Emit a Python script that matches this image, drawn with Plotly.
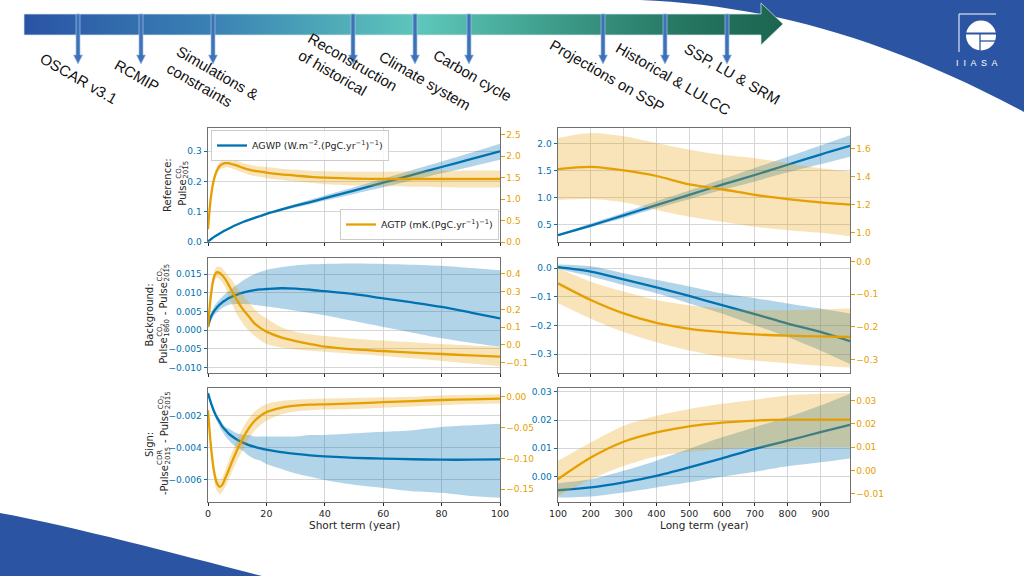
import plotly.graph_objects as go

W, H = 1024, 576

# ---------------- data ----------------
T_SHORT = [0, 1, 2, 3, 4, 5, 6, 7, 8, 10, 12, 14, 16, 18, 20, 25, 30, 35, 40, 50, 60, 70, 80, 90, 100]
T_LONG = [100, 200, 300, 400, 500, 600, 700, 800, 900, 990]

# Reference, short term
REF_AGWP = [0.002, 0.009, 0.016, 0.022, 0.028, 0.034, 0.039, 0.044, 0.049, 0.058, 0.066, 0.073, 0.080, 0.086, 0.093, 0.107, 0.120, 0.132, 0.145, 0.170, 0.196, 0.222, 0.248, 0.274, 0.300]
REF_AGWP_LO = [0.002, 0.009, 0.016, 0.022, 0.027, 0.033, 0.038, 0.043, 0.047, 0.056, 0.064, 0.070, 0.077, 0.083, 0.089, 0.102, 0.114, 0.125, 0.137, 0.159, 0.181, 0.204, 0.227, 0.249, 0.272]
REF_AGWP_HI = [0.002, 0.009, 0.016, 0.022, 0.029, 0.035, 0.040, 0.045, 0.050, 0.060, 0.068, 0.076, 0.083, 0.090, 0.097, 0.112, 0.126, 0.140, 0.154, 0.181, 0.209, 0.238, 0.266, 0.295, 0.325]
REF_AGTP = [0.30, 1.05, 1.45, 1.66, 1.77, 1.82, 1.84, 1.84, 1.82, 1.78, 1.73, 1.69, 1.66, 1.64, 1.62, 1.58, 1.55, 1.52, 1.50, 1.48, 1.47, 1.47, 1.47, 1.47, 1.47]
REF_AGTP_LO = [0.25, 0.98, 1.37, 1.57, 1.68, 1.72, 1.74, 1.74, 1.72, 1.67, 1.62, 1.57, 1.54, 1.52, 1.49, 1.45, 1.41, 1.38, 1.35, 1.32, 1.30, 1.29, 1.28, 1.27, 1.27]
REF_AGTP_HI = [0.35, 1.12, 1.53, 1.75, 1.86, 1.92, 1.94, 1.94, 1.92, 1.89, 1.84, 1.81, 1.78, 1.76, 1.75, 1.71, 1.69, 1.66, 1.65, 1.64, 1.64, 1.65, 1.66, 1.67, 1.67]

# Background, short term
BG_AGWP = [0.0010, 0.0035, 0.0050, 0.0060, 0.0068, 0.0075, 0.0080, 0.0085, 0.0089, 0.0095, 0.0100, 0.0104, 0.0107, 0.0109, 0.0110, 0.0112, 0.0111, 0.0108, 0.0104, 0.0096, 0.0085, 0.0074, 0.0062, 0.0047, 0.0031]
BG_AGWP_LO = [0.0008, 0.0025, 0.0038, 0.0047, 0.0054, 0.0060, 0.0064, 0.0067, 0.0069, 0.0070, 0.0070, 0.0069, 0.0067, 0.0065, 0.0063, 0.0058, 0.0052, 0.0046, 0.0040, 0.0024, 0.0008, -0.0007, -0.0022, -0.0034, -0.0045]
BG_AGWP_HI = [0.0012, 0.0045, 0.0062, 0.0073, 0.0082, 0.0090, 0.0097, 0.0104, 0.0110, 0.0122, 0.0133, 0.0142, 0.0150, 0.0156, 0.0161, 0.0168, 0.0173, 0.0176, 0.0177, 0.0178, 0.0177, 0.0175, 0.0172, 0.0166, 0.0160]
BG_AGTP = [0.10, 0.28, 0.38, 0.41, 0.405, 0.39, 0.37, 0.34, 0.31, 0.25, 0.20, 0.16, 0.12, 0.095, 0.075, 0.043, 0.022, 0.005, -0.010, -0.025, -0.034, -0.043, -0.051, -0.059, -0.066]
BG_AGTP_LO = [0.08, 0.25, 0.35, 0.38, 0.37, 0.35, 0.32, 0.28, 0.24, 0.17, 0.12, 0.08, 0.05, 0.025, 0.005, -0.015, -0.025, -0.032, -0.038, -0.050, -0.062, -0.075, -0.090, -0.105, -0.120]
BG_AGTP_HI = [0.12, 0.31, 0.41, 0.44, 0.44, 0.43, 0.41, 0.39, 0.37, 0.32, 0.28, 0.24, 0.20, 0.17, 0.15, 0.10, 0.075, 0.06, 0.05, 0.035, 0.025, 0.015, 0.005, -0.003, -0.010]

# Sign, short term
SG_AGWP = [-0.0006, -0.0012, -0.0017, -0.0021, -0.0024, -0.0027, -0.0029, -0.0031, -0.00325, -0.0035, -0.00368, -0.00383, -0.00394, -0.00404, -0.00412, -0.00427, -0.00438, -0.00447, -0.00453, -0.00462, -0.00467, -0.00471, -0.00474, -0.00474, -0.00472]
SG_AGWP_LO = [-0.0007, -0.0013, -0.0019, -0.0023, -0.0027, -0.0030, -0.0033, -0.0035, -0.0037, -0.0040, -0.0042, -0.0045, -0.0047, -0.0048, -0.0050, -0.0053, -0.0056, -0.0058, -0.0060, -0.0063, -0.0065, -0.0067, -0.0068, -0.0070, -0.0071]
SG_AGWP_HI = [-0.0005, -0.0011, -0.0015, -0.0019, -0.0022, -0.0025, -0.0027, -0.0028, -0.0029, -0.0031, -0.0032, -0.0032, -0.0033, -0.0033, -0.0033, -0.0033, -0.0033, -0.0032, -0.0032, -0.0031, -0.0030, -0.0029, -0.0027, -0.0026, -0.0025]
SG_AGTP = [-0.022, -0.080, -0.119, -0.140, -0.146, -0.142, -0.131, -0.120, -0.108, -0.086, -0.067, -0.051, -0.039, -0.031, -0.025, -0.018, -0.0146, -0.013, -0.0124, -0.011, -0.009, -0.0072, -0.0054, -0.0043, -0.0032]
SG_AGTP_LO = [-0.030, -0.090, -0.130, -0.152, -0.158, -0.154, -0.145, -0.134, -0.124, -0.103, -0.085, -0.068, -0.055, -0.046, -0.039, -0.029, -0.024, -0.022, -0.021, -0.020, -0.018, -0.016, -0.014, -0.012, -0.011]
SG_AGTP_HI = [-0.015, -0.070, -0.110, -0.130, -0.136, -0.130, -0.118, -0.105, -0.093, -0.070, -0.050, -0.035, -0.024, -0.017, -0.012, -0.007, -0.005, -0.004, -0.003, -0.002, -0.001, 0.000, 0.002, 0.003, 0.004]

# Reference, long term
LREF_AGWP = [0.30, 0.48, 0.67, 0.86, 1.05, 1.24, 1.42, 1.61, 1.80, 1.96]
LREF_AGWP_LO = [0.28, 0.45, 0.62, 0.80, 0.97, 1.14, 1.30, 1.47, 1.62, 1.76]
LREF_AGWP_HI = [0.32, 0.52, 0.72, 0.93, 1.13, 1.34, 1.55, 1.76, 1.97, 2.16]
LREF_AGTP = [1.454, 1.470, 1.445, 1.405, 1.345, 1.310, 1.270, 1.240, 1.216, 1.200]
LREF_AGTP_LO = [1.233, 1.240, 1.216, 1.161, 1.113, 1.077, 1.041, 1.017, 0.998, 0.974]
LREF_AGTP_HI = [1.677, 1.713, 1.689, 1.641, 1.593, 1.557, 1.533, 1.497, 1.461, 1.437]

# Background, long term
LBG_AGWP = [0.0035, -0.012, -0.039, -0.067, -0.097, -0.129, -0.160, -0.193, -0.222, -0.254]
LBG_AGWP_LO = [-0.0035, -0.029, -0.059, -0.088, -0.123, -0.158, -0.199, -0.240, -0.287, -0.334]
LBG_AGWP_HI = [0.012, 0.006, -0.018, -0.041, -0.064, -0.088, -0.105, -0.123, -0.141, -0.158]
LBG_AGTP = [-0.067, -0.118, -0.159, -0.188, -0.206, -0.216, -0.223, -0.227, -0.229, -0.231]
LBG_AGTP_LO = [-0.128, -0.175, -0.216, -0.247, -0.272, -0.291, -0.303, -0.311, -0.319, -0.324]
LBG_AGTP_HI = [-0.021, -0.062, -0.092, -0.118, -0.134, -0.144, -0.149, -0.149, -0.147, -0.144]

# Sign, long term
LSG_AGWP = [-0.0049, -0.0039, -0.0021, 0.0002, 0.0032, 0.0064, 0.0098, 0.0127, 0.0157, 0.0183]
LSG_AGWP_LO = [-0.0075, -0.0071, -0.0057, -0.0039, -0.0021, -0.0001, 0.0017, 0.0036, 0.0050, 0.0064]
LSG_AGWP_HI = [-0.0024, -0.0010, 0.0020, 0.0056, 0.0098, 0.0139, 0.0175, 0.0211, 0.0252, 0.0294]
LSG_AGTP = [-0.0038, 0.0055, 0.0123, 0.0163, 0.0189, 0.0205, 0.0214, 0.0218, 0.0218, 0.0218]
LSG_AGTP_LO = [-0.0110, -0.0038, 0.0019, 0.0060, 0.0080, 0.0091, 0.0099, 0.0099, 0.0099, 0.0099]
LSG_AGTP_HI = [0.0041, 0.0120, 0.0192, 0.0235, 0.0264, 0.0286, 0.0304, 0.0322, 0.0329, 0.0332]

SHORT_TICKS = [0, 20, 40, 60, 80, 100]
LONG_TICKS = [100, 200, 300, 400, 500, 600, 700, 800, 900]
X_TITLES = ["Short term (year)", "Long term (year)"]

TIMELINE_LABELS = ["OSCAR v3.1", "RCMIP", "Simulations &<br>constraints",
                   "Reconstruction<br>of historical", "Climate system", "Carbon cycle",
                   "Projections on SSP", "Historical & LULCC", "SSP, LU & SRM"]

# ---------------- style ----------------
BLUE = "#0072B2"
ORANGE = "#E69F00"
BLUE_BAND = "rgba(0,114,178,0.30)"
ORANGE_BAND = "rgba(230,159,0,0.28)"
GRID = "#d6d6d6"
FRAME = "#707070"
TXT = "#262626"
SLIDE_BLUE = "#2b55a3"
FONT = "DejaVu Sans"


def mlabels(vals, fmt):
    return [(fmt % v).replace("-", "\u2212") for v in vals]


PANELS = [
    dict(col=0, row=0, t=T_SHORT, b=(REF_AGWP, REF_AGWP_LO, REF_AGWP_HI), o=(REF_AGTP, REF_AGTP_LO, REF_AGTP_HI),
         lr=[0, 0.377], lt=[0.0, 0.1, 0.2, 0.3], lf="%.1f",
         rr=[0, 2.66], rt=[0.0, 0.5, 1.0, 1.5, 2.0, 2.5], rf="%.1f"),
    dict(col=0, row=1, t=T_SHORT, b=(BG_AGWP, BG_AGWP_LO, BG_AGWP_HI), o=(BG_AGTP, BG_AGTP_LO, BG_AGTP_HI),
         lr=[-0.0115, 0.0193], lt=[-0.010, -0.005, 0.0, 0.005, 0.010, 0.015], lf="%.3f",
         rr=[-0.158, 0.49], rt=[-0.1, 0.0, 0.1, 0.2, 0.3, 0.4], rf="%.1f"),
    dict(col=0, row=2, t=T_SHORT, b=(SG_AGWP, SG_AGWP_LO, SG_AGWP_HI), o=(SG_AGTP, SG_AGTP_LO, SG_AGTP_HI),
         lr=[-0.00737, -0.00028], lt=[-0.006, -0.004, -0.002], lf="%.3f",
         rr=[-0.1706, 0.014], rt=[-0.15, -0.10, -0.05, 0.0], rf="%.2f"),
    dict(col=1, row=0, t=T_LONG, b=(LREF_AGWP, LREF_AGWP_LO, LREF_AGWP_HI), o=(LREF_AGTP, LREF_AGTP_LO, LREF_AGTP_HI),
         lr=[0.175, 2.293], lt=[0.5, 1.0, 1.5, 2.0], lf="%.1f",
         rr=[0.932, 1.749], rt=[1.0, 1.2, 1.4, 1.6], rf="%.1f"),
    dict(col=1, row=1, t=T_LONG, b=(LBG_AGWP, LBG_AGWP_LO, LBG_AGWP_HI), o=(LBG_AGTP, LBG_AGTP_LO, LBG_AGTP_HI),
         lr=[-0.365, 0.035], lt=[-0.3, -0.2, -0.1, 0.0], lf="%.1f",
         rr=[-0.341, 0.0105], rt=[-0.3, -0.2, -0.1, 0.0], rf="%.1f"),
    dict(col=1, row=2, t=T_LONG, b=(LSG_AGWP, LSG_AGWP_LO, LSG_AGWP_HI), o=(LSG_AGTP, LSG_AGTP_LO, LSG_AGTP_HI),
         lr=[-0.00907, 0.0314], lt=[0.0, 0.01, 0.02, 0.03], lf="%.2f",
         rr=[-0.0136, 0.0354], rt=[-0.01, 0.0, 0.01, 0.02, 0.03], rf="%.2f"),
]

COLS_PX = [(208, 500), (558, 850)]
ROWS_PX = [(128, 242), (258, 373), (388, 502)]

fig = go.Figure()
layout = dict(
    width=W, height=H, autosize=False,
    margin=dict(l=0, r=0, t=0, b=0, pad=0, autoexpand=False),
    paper_bgcolor="white", plot_bgcolor="rgba(0,0,0,0)",
    font=dict(family=FONT, size=9, color=TXT),
    showlegend=True,
)

for i, p in enumerate(PANELS):
    xi, yl, yr = i + 1, 2 * i + 1, 2 * i + 2
    xref = "x" if xi == 1 else f"x{xi}"
    ylref = "y" if yl == 1 else f"y{yl}"
    yrref = f"y{yr}"
    xkey = "xaxis" if xi == 1 else f"xaxis{xi}"
    ylkey = "yaxis" if yl == 1 else f"yaxis{yl}"
    yrkey = f"yaxis{yr}"
    c0, c1 = COLS_PX[p["col"]]
    r0, r1 = ROWS_PX[p["row"]]
    t = p["t"]
    bottom = p["row"] == 2

    # blue band + line (left axis)
    fig.add_trace(go.Scatter(x=t, y=p["b"][1], xaxis=xref, yaxis=ylref, mode="lines",
                             line=dict(width=0, shape="spline", smoothing=0.8),
                             showlegend=False, hoverinfo="skip"))
    fig.add_trace(go.Scatter(x=t, y=p["b"][2], xaxis=xref, yaxis=ylref, mode="lines",
                             line=dict(width=0, shape="spline", smoothing=0.8),
                             fill="tonexty", fillcolor=BLUE_BAND, showlegend=False, hoverinfo="skip"))
    fig.add_trace(go.Scatter(x=t, y=p["b"][0], xaxis=xref, yaxis=ylref, mode="lines",
                             line=dict(width=2.3, color=BLUE, shape="spline", smoothing=0.8),
                             name="AGWP (W.m<sup>\u22122</sup>.(PgC.yr<sup>\u22121</sup>)<sup>\u22121</sup>)",
                             showlegend=(i == 0), legend="legend"))
    # orange band + line (right axis)
    fig.add_trace(go.Scatter(x=t, y=p["o"][1], xaxis=xref, yaxis=yrref, mode="lines",
                             line=dict(width=0, shape="spline", smoothing=0.8),
                             showlegend=False, hoverinfo="skip"))
    fig.add_trace(go.Scatter(x=t, y=p["o"][2], xaxis=xref, yaxis=yrref, mode="lines",
                             line=dict(width=0, shape="spline", smoothing=0.8),
                             fill="tonexty", fillcolor=ORANGE_BAND, showlegend=False, hoverinfo="skip"))
    fig.add_trace(go.Scatter(x=t, y=p["o"][0], xaxis=xref, yaxis=yrref, mode="lines",
                             line=dict(width=2.3, color=ORANGE, shape="spline", smoothing=0.8),
                             name="AGTP (mK.(PgC.yr<sup>\u22121</sup>)<sup>\u22121</sup>)",
                             showlegend=(i == 0), legend="legend2"))

    xt = SHORT_TICKS if p["col"] == 0 else LONG_TICKS
    layout[xkey] = dict(
        domain=[c0 / W, c1 / W], anchor=ylref, automargin=False,
        range=[0, 100] if p["col"] == 0 else [100, 990],
        tickvals=xt, ticktext=[str(v) for v in xt], showticklabels=bottom,
        ticks="outside", ticklen=3, tickcolor=TXT, tickfont=dict(size=9.5, color=TXT),
        showgrid=True, gridcolor=GRID, gridwidth=1, zeroline=False,
        showline=True, linecolor=FRAME, linewidth=1, mirror=True,
    )
    layout[ylkey] = dict(
        domain=[1 - r1 / H, 1 - r0 / H], anchor=xref, range=p["lr"], automargin=False,
        tickvals=p["lt"], ticktext=mlabels(p["lt"], p["lf"]),
        ticks="outside", ticklen=3.5, tickcolor=BLUE, tickfont=dict(size=9, color=BLUE),
        showgrid=True, gridcolor=GRID, gridwidth=1, zeroline=False,
        showline=True, linecolor=FRAME, linewidth=1,
    )
    layout[yrkey] = dict(
        overlaying=ylref, side="right", anchor=xref, range=p["rr"], automargin=False,
        tickvals=p["rt"], ticktext=mlabels(p["rt"], p["rf"]),
        ticks="outside", ticklen=3.5, tickcolor=ORANGE, tickfont=dict(size=9, color=ORANGE),
        showgrid=False, zeroline=False,
        showline=True, linecolor=FRAME, linewidth=1,
    )

# decoration axes (pixel coordinates over the whole page)
layout["xaxis7"] = dict(domain=[0, 1], range=[0, W], visible=False, anchor="y13", fixedrange=True, automargin=False)
layout["yaxis13"] = dict(domain=[0, 1], range=[H, 0], visible=False, anchor="x7", fixedrange=True, automargin=False)

# timeline arrow with gradient
fig.add_trace(go.Scatter(
    x=[24, 761, 761, 783, 761, 761, 24, 24], y=[14, 14, 3, 24, 45, 35, 35, 14],
    xaxis="x7", yaxis="y13", mode="lines", line=dict(width=0.8, color="rgba(215,232,238,0.9)"),
    fill="toself",
    fillgradient=dict(type="horizontal", start=24, stop=783,
                      colorscale=[[0, "#2a53a5"], [0.25, "#3a82b4"], [0.52, "#5ec7bb"],
                                  [0.7, "#3d9c8a"], [0.88, "#24745f"], [1, "#1c6551"]]),
    hoverinfo="skip", showlegend=False))

shapes = [
    dict(type="path", xref="x7", yref="y13", layer="below",
         path="M 640,0 C 760,5 880,35 1024,112 L 1024,0 Z", fillcolor=SLIDE_BLUE, line=dict(width=0)),
    dict(type="path", xref="x7", yref="y13", layer="below",
         path="M 0,513 C 80,528 180,555 262,576 L 0,576 Z", fillcolor=SLIDE_BLUE, line=dict(width=0)),
]
ARROW_X = [78, 141, 213, 353, 415, 469, 603, 665, 727]
for ax in ARROW_X:
    shapes.append(dict(type="path", xref="x7", yref="y13",
                       path=f"M {ax-2},14 L {ax+2},14 L {ax+2},55 L {ax+4.5},55 L {ax},64 L {ax-4.5},55 L {ax-2},55 Z",
                       fillcolor="#3d72b8", line=dict(width=0.7, color="#a8c2e4")))
# IIASA logo
shapes += [
    dict(type="line", xref="x7", yref="y13", x0=959, x1=959, y0=14, y1=52, line=dict(color="white", width=1)),
    dict(type="line", xref="x7", yref="y13", x0=959, x1=996, y0=14, y1=14, line=dict(color="white", width=1)),
    dict(type="circle", xref="x7", yref="y13", x0=966, x1=996, y0=20.5, y1=50.5, fillcolor="white", line=dict(width=0)),
    dict(type="rect", xref="x7", yref="y13", x0=965, x1=997, y0=32.5, y1=34.5, fillcolor=SLIDE_BLUE, line=dict(width=0)),
    dict(type="line", xref="x7", yref="y13", x0=980, x1=980, y0=34, y1=51, line=dict(color=SLIDE_BLUE, width=1.3)),
    dict(type="line", xref="x7", yref="y13", x0=980, x1=997, y0=41, y1=41, line=dict(color=SLIDE_BLUE, width=1.3)),
]
layout["shapes"] = shapes

annotations = []
LABEL_POS = [(79, 78), (137, 75), (213, 81), (348, 70), (425, 80), (473, 75), (607, 75), (673, 78), (732, 73)]
for txt, (lx, ly) in zip(TIMELINE_LABELS, LABEL_POS):
    annotations.append(dict(x=lx, y=ly, xref="x7", yref="y13", text=txt, showarrow=False,
                            textangle=30, align="left", xanchor="center", yanchor="middle",
                            font=dict(family="Liberation Sans, Arial", size=15, color="#111111")))
annotations.append(dict(x=977, y=63, xref="x7", yref="y13", text="I  I  A  S  A", showarrow=False,
                        font=dict(family="Liberation Sans", size=9, color="white")))

# x-axis titles of the bottom row
for (c0, c1), ttl in zip(COLS_PX, X_TITLES):
    annotations.append(dict(x=(c0 + c1) / 2 / W, y=1 - 525 / H, xref="paper", yref="paper", text=ttl,
                            showarrow=False, xanchor="center", yanchor="middle",
                            font=dict(family=FONT, size=10.5, color=TXT)))

# y-axis titles (rotated), with stacked super/subscripts
CW = {'P': .603, 'u': .634, 'l': .278, 's': .521, 'e': .615, ' ': .318, '-': .361,
      'C': .698, 'O': .787, 'D': .770, 'R': .695}


def tw(s, size):
    return sum(CW.get(ch, .636) for ch in s) * size


def rot(x, y, text, size, anchor="bottom"):
    annotations.append(dict(x=x / W, y=1 - y / H, xref="paper", yref="paper", text=text,
                            showarrow=False, textangle=-90, xanchor="center", yanchor=anchor,
                            font=dict(family=FONT, size=size, color=TXT)))


def pulse_line(x0, yc, segs):
    total = 0
    for s in segs:
        total += tw(s[0], 10) if len(s) == 1 else max(tw(s[1], 7), tw("CO", 7) + 3.2) + 1
    y = yc + total / 2
    for s in segs:
        if len(s) == 1:
            rot(x0, y, s[0], 10)
            y -= tw(s[0], 10)
        else:
            sup, sub = s
            rot(x0 - 3.5, y, sup, 7)
            rot(x0 + 3.5, y, sub, 7)
            y -= max(tw(sub, 7), tw("CO", 7) + 3.2) + 1


CO2 = "CO<sub>2</sub>"
yc = [(r0 + r1) / 2 for r0, r1 in ROWS_PX]
rot(167, yc[0], "Reference:", 10, "middle")
pulse_line(183, yc[0], [("Pulse",), (CO2, "2015")])
rot(149, yc[1], "Background:", 10, "middle")
pulse_line(164, yc[1], [("Pulse",), (CO2, "1860"), (" - ",), ("Pulse",), (CO2, "2015")])
rot(149, yc[2], "Sign:", 10, "middle")
pulse_line(164, yc[2], [("-Pulse",), ("CDR", "2015"), (" - ",), ("Pulse",), (CO2, "2015")])

layout["annotations"] = annotations

layout["legend"] = dict(x=211 / W, y=1 - 130 / H, xanchor="left", yanchor="top",
                        bgcolor="rgba(255,255,255,0.85)", bordercolor="#cccccc", borderwidth=1,
                        font=dict(size=9.5, color=TXT), itemwidth=30, tracegroupgap=0)
layout["legend2"] = dict(x=499 / W, y=1 - 240 / H, xanchor="right", yanchor="bottom",
                         bgcolor="rgba(255,255,255,0.85)", bordercolor="#cccccc", borderwidth=1,
                         font=dict(size=9.5, color=TXT), itemwidth=30, tracegroupgap=0)

fig.update_layout(**layout)
fig.write_html("out.html", config={"displayModeBar": False},
               post_script="document.documentElement.style.margin='0';document.body.style.margin='0';document.body.style.overflow='hidden';")
